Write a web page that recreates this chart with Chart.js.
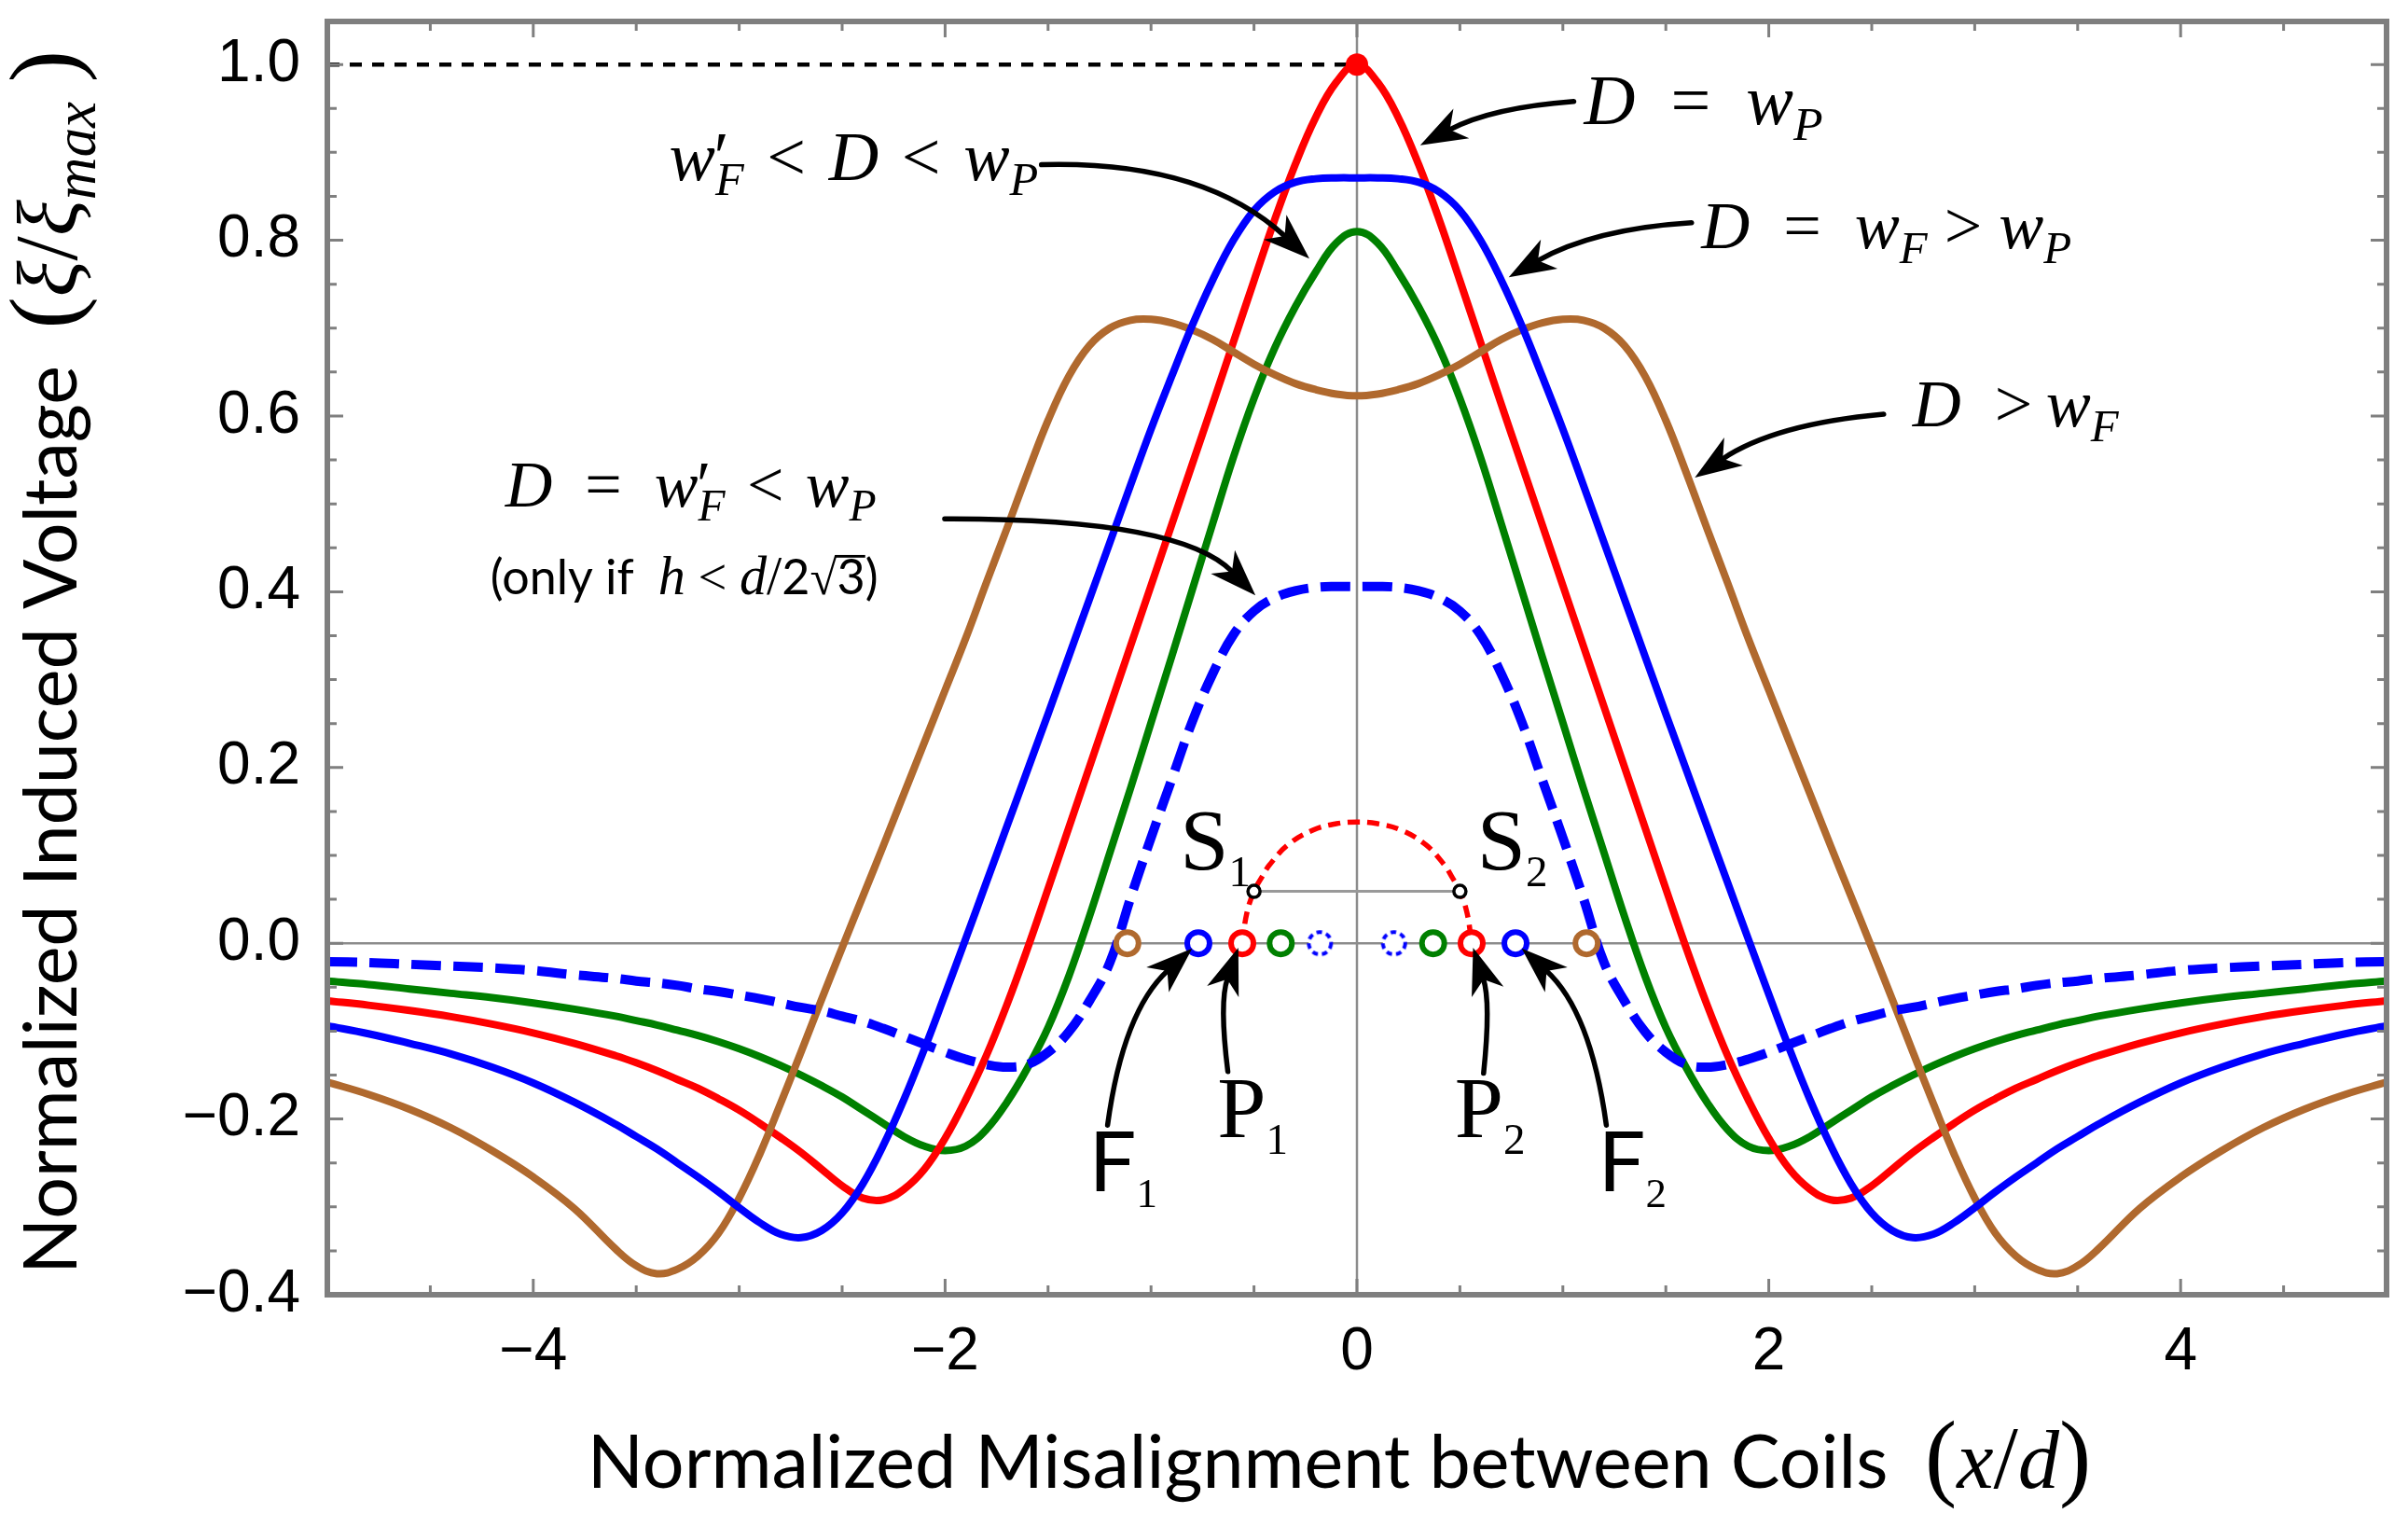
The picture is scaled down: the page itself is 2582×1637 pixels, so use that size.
<!DOCTYPE html>
<html>
<head>
<meta charset="utf-8">
<title>Normalized Induced Voltage</title>
<script src="https://cdn.jsdelivr.net/npm/chart.js@4.4.1/dist/chart.umd.min.js"></script>
<style>
  html, body { margin: 0; padding: 0; background: #ffffff; }
  canvas { display: block; }
</style>
</head>
<body>
<canvas id="myChart" width="2582" height="1637"></canvas>
<script>
// misalignment x/d, shared by the five curves
const xValues = [-5, -4.8, -4.6, -4.4, -4.2, -4, -3.8, -3.6, -3.5, -3.4, -3.3, -3.2, -3.1, -3, -2.9, -2.8, -2.7, -2.6, -2.5, -2.4, -2.3, -2.2, -2.1, -2, -1.9, -1.8, -1.7, -1.6, -1.5, -1.4, -1.3, -1.2, -1.1, -1, -0.9, -0.8, -0.7, -0.6, -0.5, -0.4, -0.3, -0.2, -0.1,
  0,
  0.1, 0.2, 0.3, 0.4, 0.5, 0.6, 0.7, 0.8, 0.9, 1, 1.1, 1.2, 1.3, 1.4, 1.5, 1.6, 1.7, 1.8, 1.9, 2, 2.1, 2.2, 2.3, 2.4, 2.5, 2.6, 2.7, 2.8, 2.9, 3, 3.1, 3.2, 3.3, 3.4, 3.5, 3.6, 3.8, 4, 4.2, 4.4, 4.6, 4.8, 5];

// D = wP
const redCurve = [-0.0655, -0.0705, -0.0765, -0.0835, -0.092, -0.102, -0.114, -0.128, -0.136, -0.145, -0.155, -0.165, -0.177, -0.190, -0.205, -0.221, -0.238, -0.257, -0.276, -0.290, -0.292, -0.280, -0.257, -0.222, -0.178, -0.128, -0.070, -0.006, 0.062, 0.131, 0.200, 0.269, 0.338, 0.407, 0.476, 0.545, 0.614, 0.684, 0.754, 0.823, 0.886, 0.940, 0.980,
  1.000,
  0.980, 0.940, 0.886, 0.823, 0.754, 0.684, 0.614, 0.545, 0.476, 0.407, 0.338, 0.269, 0.200, 0.131, 0.062, -0.006, -0.070, -0.128, -0.178, -0.222, -0.257, -0.280, -0.292, -0.290, -0.276, -0.257, -0.238, -0.221, -0.205, -0.190, -0.177, -0.165, -0.155, -0.145, -0.136, -0.128, -0.114, -0.102, -0.092, -0.0835, -0.0765, -0.0705, -0.0655];

// D = wF > wP
const blueCurve = [-0.094, -0.103, -0.114, -0.126, -0.141, -0.159, -0.181, -0.206, -0.220, -0.234, -0.250, -0.266, -0.283, -0.301, -0.318, -0.331, -0.335, -0.327, -0.307, -0.274, -0.230, -0.178, -0.120, -0.058, 0.005, 0.069, 0.133, 0.197, 0.261, 0.326, 0.391, 0.456, 0.521, 0.585, 0.645, 0.703, 0.755, 0.800, 0.834, 0.855, 0.866, 0.870, 0.871,
  0.871,
  0.871, 0.870, 0.866, 0.855, 0.834, 0.800, 0.755, 0.703, 0.645, 0.585, 0.521, 0.456, 0.391, 0.326, 0.261, 0.197, 0.133, 0.069, 0.005, -0.058, -0.120, -0.178, -0.230, -0.274, -0.307, -0.327, -0.335, -0.331, -0.318, -0.301, -0.283, -0.266, -0.250, -0.234, -0.220, -0.206, -0.181, -0.159, -0.141, -0.126, -0.114, -0.103, -0.094];

// w'F < D < wP
const greenCurve = [-0.043, -0.047, -0.052, -0.057, -0.062, -0.068, -0.075, -0.083, -0.088, -0.093, -0.099, -0.105, -0.112, -0.120, -0.129, -0.139, -0.150, -0.162, -0.175, -0.190, -0.205, -0.220, -0.231, -0.236, -0.231, -0.212, -0.181, -0.142, -0.096, -0.038, 0.030, 0.103, 0.176, 0.251, 0.326, 0.402, 0.478, 0.553, 0.620, 0.677, 0.724, 0.764, 0.797,
  0.810,
  0.797, 0.764, 0.724, 0.677, 0.620, 0.553, 0.478, 0.402, 0.326, 0.251, 0.176, 0.103, 0.030, -0.038, -0.096, -0.142, -0.181, -0.212, -0.231, -0.236, -0.231, -0.220, -0.205, -0.190, -0.175, -0.162, -0.150, -0.139, -0.129, -0.120, -0.112, -0.105, -0.099, -0.093, -0.088, -0.083, -0.075, -0.068, -0.062, -0.057, -0.052, -0.047, -0.043];

// D > wF
const brownCurve = [-0.158, -0.172, -0.189, -0.210, -0.236, -0.266, -0.302, -0.348, -0.367, -0.376, -0.371, -0.356, -0.330, -0.290, -0.240, -0.183, -0.124, -0.064, -0.005, 0.053, 0.111, 0.170, 0.229, 0.288, 0.347, 0.410, 0.472, 0.535, 0.595, 0.645, 0.680, 0.700, 0.709, 0.710, 0.706, 0.698, 0.687, 0.673, 0.659, 0.647, 0.637, 0.630, 0.625,
  0.623,
  0.625, 0.630, 0.637, 0.647, 0.659, 0.673, 0.687, 0.698, 0.706, 0.710, 0.709, 0.700, 0.680, 0.645, 0.595, 0.535, 0.472, 0.410, 0.347, 0.288, 0.229, 0.170, 0.111, 0.053, -0.005, -0.064, -0.124, -0.183, -0.240, -0.290, -0.330, -0.356, -0.371, -0.376, -0.367, -0.348, -0.302, -0.266, -0.236, -0.210, -0.189, -0.172, -0.158];

// D = w'F < wP (dashed)
const dashedCurve = [-0.021, -0.022, -0.024, -0.026, -0.028, -0.031, -0.036, -0.040, -0.043, -0.045, -0.048, -0.052, -0.055, -0.059, -0.063, -0.068, -0.073, -0.077, -0.083, -0.089, -0.097, -0.106, -0.115, -0.124, -0.132, -0.138, -0.141, -0.138, -0.124, -0.101, -0.066, -0.022, 0.051, 0.120, 0.186, 0.252, 0.307, 0.351, 0.378, 0.393, 0.401, 0.405, 0.406,
  0.406,
  0.406, 0.405, 0.401, 0.393, 0.378, 0.351, 0.307, 0.252, 0.186, 0.120, 0.051, -0.022, -0.066, -0.101, -0.124, -0.138, -0.141, -0.138, -0.132, -0.124, -0.115, -0.106, -0.097, -0.089, -0.083, -0.077, -0.073, -0.068, -0.063, -0.059, -0.055, -0.052, -0.048, -0.045, -0.043, -0.040, -0.036, -0.031, -0.028, -0.026, -0.024, -0.022, -0.021];

// small red arc through S1, S2 between P1 and P2
const arcX = [-0.557, -0.535, -0.5, -0.46, -0.425, -0.335, -0.212, -0.1, 0, 0.1, 0.212, 0.335, 0.425, 0.46, 0.5, 0.535, 0.557];
const arcY = [0, 0.034, 0.059, 0.076, 0.089, 0.112, 0.129, 0.136, 0.138, 0.136, 0.129, 0.112, 0.089, 0.076, 0.059, 0.034, 0];

// points on the zero line
const brownZeros = [-1.115, 1.115];
const blueZeros = [-0.77, 0.77];
const redZeros = [-0.557, 0.557];
const greenZeros = [-0.37, 0.37];
const dashedZeros = [-0.18, 0.18];
const sPointsX = [-0.5, 0.5];
const sPointsY = [0.059, 0.059];
const peakX = [0];
const peakY = [1.0];
const refLineX = [-5, 0];
const refLineY = [1.0, 1.0];

const xTickValues = [-4, -2, 0, 2, 4];
const yTickValues = [-0.4, -0.2, 0, 0.2, 0.4, 0.6, 0.8, 1.0];

const RED = '#ff0000', BLUE = '#0000ff', GREEN = '#008000', BROWN = '#b0692e';
const serif = '"Liberation Serif", "DejaVu Serif", serif';
const sans = 'Lato, "Open Sans", sans-serif';

const pts = (xs, ys) => xs.map((x, i) => ({x: x, y: ys[i]}));

function curve(label, ys, color, width, order, dash) {
  return {
    label: label,
    data: pts(xValues, ys),
    borderColor: color,
    borderWidth: width,
    borderDash: dash || [],
    pointRadius: 0,
    tension: 0.4,
    fill: false,
    order: order
  };
}

function rings(label, xs, color, order, style) {
  return {
    label: label,
    data: xs.map(x => ({x: x, y: 0})),
    showLine: false,
    pointRadius: 12,
    pointBorderWidth: 6,
    pointBackgroundColor: '#ffffff',
    pointBorderColor: color,
    pointStyle: style || 'circle',
    order: order
  };
}

// dashed ring for the dashed curve zeros
const dashRing = document.createElement('canvas');
dashRing.width = 32; dashRing.height = 32;
(function () {
  const g = dashRing.getContext('2d');
  g.fillStyle = '#ffffff';
  g.strokeStyle = BLUE;
  g.lineWidth = 4;
  g.setLineDash([6, 4.5]);
  g.beginPath();
  g.arc(16, 16, 12, 0, Math.PI * 2);
  g.fill();
  g.stroke();
})();

// text helpers
const I = (t, k) => ({t: t, f: 'i', k: k});
const R = (t, k) => ({t: t, f: 'r', k: k});
const S = (t, k) => ({t: t, f: 's', k: k});
const SUB = (t, f, ks, dy) => ({t: t, f: f || 'i', sub: true, ks: ks, dy: dy});
const PRIME = {t: '\u2032', f: 'r', hold: true, dx: -0.02};

function fontFor(kind, size) {
  if (kind === 'i') return 'italic ' + size + 'px ' + serif;
  if (kind === 'r') return size + 'px ' + serif;
  return size + 'px ' + sans;
}

function drawRuns(ctx, runs, size, x, y, doDraw) {
  let cx = x;
  runs.forEach(r => {
    const s = size * (r.sub ? (r.ks || 0.68) : (r.k || 1));
    ctx.font = fontFor(r.f, s);
    const w = ctx.measureText(r.t).width;
    const px = cx + (r.dx || 0) * size;
    const py = y + (r.sub ? (r.dy || 0.22) * size : 0);
    if (doDraw) {
      ctx.fillText(r.t, px, py);
      if (r.over) ctx.fillRect(px - 0.04 * s, py - 0.8 * s, w + 0.04 * s, 0.055 * s);
    }
    if (!r.hold) cx = px + w;
  });
  return cx - x;
}

const mathLabels = [
  {at: [1.103, 0.932], size: 76, runs: [I('D'), R('\u2002=\u2002'), I('w'), SUB('P')]},
  {at: [1.672, 0.791], size: 72, runs: [I('D'), R('\u2002=\u2002'), I('w'), SUB('F'), R(' > '), I('w'), SUB('P')]},
  {at: [-3.34, 0.8685], size: 74, runs: [I('w'), PRIME, SUB('F'), R('\u2004<\u2004'), I('D'), R('\u2004<\u2004'), I('w'), SUB('P')]},
  {at: [2.698, 0.5885], size: 72, runs: [I('D'), R('\u2002>\u2009'), I('w'), SUB('F')]},
  {at: [-4.136, 0.497], size: 70, runs: [I('D'), R('\u2002=\u2002'), I('w'), PRIME, SUB('F'), R('\u2004<\u2004'), I('w'), SUB('P')]},
  {at: [-4.208, 0.3977], size: 52, runs: [S('(only if\u2002'), I('h', 1.12), R(' < ', 1.05), I('d', 1.12), R('/', 1.12), S('2'), R('\u221A', 1.02), {t: '3', f: 's', over: true}, S(')')]},
  {at: [-0.859, 0.0838], size: 94, runs: [R('S'), SUB('1', 'r', 0.5, 0.19)]},
  {at: [0.583, 0.0838], size: 94, runs: [R('S'), SUB('2', 'r', 0.5, 0.19)]},
  {at: [-0.678, -0.2206], size: 94, runs: [R('P'), SUB('1', 'r', 0.5, 0.19)]},
  {at: [0.4746, -0.2206], size: 94, runs: [R('P'), SUB('2', 'r', 0.5, 0.19)]},
  {at: [-1.302, -0.282], size: 90, runs: [S('F'), SUB('1', 'r', 0.5, 0.19)]},
  {at: [1.171, -0.282], size: 90, runs: [S('F'), SUB('2', 'r', 0.5, 0.19)]}
];

const arrows = [
  {from: [1.053, 0.958], via: [0.651, 0.951], to: [0.307, 0.908]},
  {from: [1.625, 0.820], via: [1.148, 0.813], to: [0.737, 0.758]},
  {from: [-1.532, 0.886], via: [-0.750, 0.891], to: [-0.231, 0.779]},
  {from: [2.558, 0.602], via: [2.029, 0.591], to: [1.641, 0.530]},
  {from: [-2.002, 0.483], via: [-0.860, 0.484], to: [-0.493, 0.396]},
  {from: [-1.211, -0.207], via: [-1.135, -0.077], to: [-0.800, -0.006]},
  {from: [-0.627, -0.146], via: [-0.669, -0.067], to: [-0.576, -0.005]},
  {from: [0.615, -0.148], via: [0.651, -0.067], to: [0.564, -0.005]},
  {from: [1.211, -0.207], via: [1.135, -0.077], to: [0.800, -0.006]}
];

const xTitle = [S('Normalized Misalignment between Coils'), S('\u2002'), R('(', 1.3), I('x', 1.12), R('/', 1.2), I('d', 1.12), R(')', 1.3)];
const yTitle = [S('Normalized Induced Voltage'), S('\u2002'), R('(', 1.3), I('\u03BE', 1.15), R('/', 1.2), I('\u03BE', 1.15), SUB('max', 'i', 0.8, 0.25), R('\u2009)', 1.3)];

const decorations = {
  id: 'decorations',
  beforeDatasetsDraw(chart) {
    const {ctx, chartArea: a, scales: {x, y}} = chart;
    ctx.save();
    ctx.strokeStyle = '#8c8c8c';
    ctx.lineWidth = 2.5;
    ctx.beginPath();
    ctx.moveTo(x.getPixelForValue(0), a.top);
    ctx.lineTo(x.getPixelForValue(0), a.bottom);
    ctx.moveTo(a.left, y.getPixelForValue(0));
    ctx.lineTo(a.right, y.getPixelForValue(0));
    ctx.stroke();
    ctx.restore();
  },
  afterDatasetsDraw(chart) {
    const {ctx, chartArea: a, scales: {x, y}} = chart;
    const P = p => [x.getPixelForValue(p[0]), y.getPixelForValue(p[1])];
    ctx.save();

    // frame with inward ticks
    ctx.strokeStyle = '#7f7f7f';
    ctx.lineWidth = 3;
    ctx.beginPath();
    for (let i = -9; i <= 9; i++) {
      const px = x.getPixelForValue(i * 0.5);
      const len = i % 4 === 0 ? 17 : 10;
      ctx.moveTo(px, a.bottom); ctx.lineTo(px, a.bottom - len);
      ctx.moveTo(px, a.top); ctx.lineTo(px, a.top + len);
    }
    for (let i = -7; i <= 20; i++) {
      const py = y.getPixelForValue(i * 0.05);
      const len = i % 4 === 0 ? 17 : 10;
      ctx.moveTo(a.left, py); ctx.lineTo(a.left + len, py);
      ctx.moveTo(a.right, py); ctx.lineTo(a.right - len, py);
    }
    ctx.stroke();
    ctx.lineWidth = 6;
    ctx.strokeRect(a.left, a.top, a.right - a.left, a.bottom - a.top);

    // arrows
    ctx.strokeStyle = '#000000';
    ctx.fillStyle = '#000000';
    ctx.lineWidth = 5.5;
    ctx.lineCap = 'round';
    arrows.forEach(ar => {
      const p0 = P(ar.from), c = P(ar.via), p1 = P(ar.to);
      const ang = Math.atan2(p1[1] - c[1], p1[0] - c[0]);
      const L = 50, W = 18;
      const ca = Math.cos(ang), sa = Math.sin(ang);
      const end = [p1[0] - ca * L * 0.7, p1[1] - sa * L * 0.7];
      ctx.beginPath();
      ctx.moveTo(p0[0], p0[1]);
      ctx.quadraticCurveTo(c[0], c[1], end[0], end[1]);
      ctx.stroke();
      ctx.beginPath();
      ctx.moveTo(p1[0], p1[1]);
      ctx.lineTo(p1[0] - ca * L - sa * W, p1[1] - sa * L + ca * W);
      ctx.lineTo(p1[0] - ca * L * 0.72, p1[1] - sa * L * 0.72);
      ctx.lineTo(p1[0] - ca * L + sa * W, p1[1] - sa * L - ca * W);
      ctx.closePath();
      ctx.fill();
    });

    // annotations
    ctx.textAlign = 'left';
    ctx.textBaseline = 'alphabetic';
    mathLabels.forEach(lb => {
      const p = P(lb.at);
      drawRuns(ctx, lb.runs, lb.size, p[0], p[1], true);
    });
    ctx.restore();
  },
  afterDraw(chart) {
    const ctx = chart.ctx;
    ctx.save();
    ctx.fillStyle = '#000000';
    ctx.textAlign = 'left';
    ctx.textBaseline = 'alphabetic';
    ctx.font = '100px ' + sans;
    const size = 100 * 1395 / ctx.measureText('Normalized Misalignment between Coils').width;
    const wx = drawRuns(ctx, xTitle, size, 0, 0, false);
    drawRuns(ctx, xTitle, size, 1436 - wx / 2, 1595, true);
    const wy = drawRuns(ctx, yTitle, size, 0, 0, false);
    ctx.translate(82, 710);
    ctx.rotate(-Math.PI / 2);
    drawRuns(ctx, yTitle, size, -wy / 2, 0, true);
    ctx.restore();
  }
};

const minus = v => (v < 0 ? '\u2212' : '');
const noPad = s => { s.paddingTop = 0; s.paddingBottom = 0; s.paddingLeft = 0; s.paddingRight = 0; };

new Chart(document.getElementById('myChart'), {
  type: 'line',
  data: {
    datasets: [
      {label: 'peak', data: pts(peakX, peakY), showLine: false, pointRadius: 12, pointBackgroundColor: RED, pointBorderWidth: 0, order: 0},
      {label: 'S points', data: pts(sPointsX, sPointsY), showLine: false, pointRadius: 6.5, pointBorderWidth: 3.5, pointBackgroundColor: '#ffffff', pointBorderColor: '#000000', order: 1},
      rings('brown zeros', brownZeros, BROWN, 2),
      rings('blue zeros', blueZeros, BLUE, 2),
      rings('red zeros', redZeros, RED, 2),
      rings('green zeros', greenZeros, GREEN, 2),
      rings('dashed zeros', dashedZeros, BLUE, 2, dashRing),
      {label: 'arc', data: pts(arcX, arcY), borderColor: RED, borderWidth: 5.5, borderDash: [13, 8], pointRadius: 0, tension: 0.4, order: 3},
      curve('D = w\'F < wP', dashedCurve, BLUE, 10, 4, [32, 13]),
      curve('D = wF > wP', blueCurve, BLUE, 8, 5),
      curve('D > wF', brownCurve, BROWN, 8, 6),
      curve('D = wP', redCurve, RED, 8, 7),
      curve('w\'F < D < wP', greenCurve, GREEN, 8, 8),
      {label: 'S line', data: pts(sPointsX, sPointsY), borderColor: '#999999', borderWidth: 3, pointRadius: 0, order: 9},
      {label: 'max', data: pts(refLineX, refLineY), borderColor: '#000000', borderWidth: 4.5, borderDash: [13, 11], pointRadius: 0, order: 10}
    ]
  },
  options: {
    responsive: false,
    devicePixelRatio: 1,
    animation: false,
    parsing: false,
    layout: {autoPadding: false, padding: {top: 23, right: 23, left: 0, bottom: 0}},
    plugins: {legend: {display: false}, tooltip: {enabled: false}},
    scales: {
      x: {
        type: 'linear', min: -5, max: 5,
        grid: {display: false, drawTicks: false},
        border: {display: false},
        afterBuildTicks: s => { s.ticks = xTickValues.map(v => ({value: v})); },
        afterFit: s => { s.height = 249; noPad(s); },
        ticks: {
          color: '#000000', padding: 24, maxRotation: 0,
          font: {family: '"Liberation Sans", Arial, sans-serif', size: 64},
          callback: v => minus(v) + Math.abs(v)
        }
      },
      y: {
        type: 'linear', min: -0.4, max: 1.049,
        grid: {display: false, drawTicks: false},
        border: {display: false},
        afterBuildTicks: s => { s.ticks = yTickValues.map(v => ({value: v})); },
        afterFit: s => { s.width = 351; noPad(s); },
        ticks: {
          color: '#000000', padding: 29,
          font: {family: '"Liberation Sans", Arial, sans-serif', size: 64},
          callback: v => minus(v) + Math.abs(v).toFixed(1)
        }
      }
    }
  },
  plugins: [decorations]
});
</script>
</body>
</html>
